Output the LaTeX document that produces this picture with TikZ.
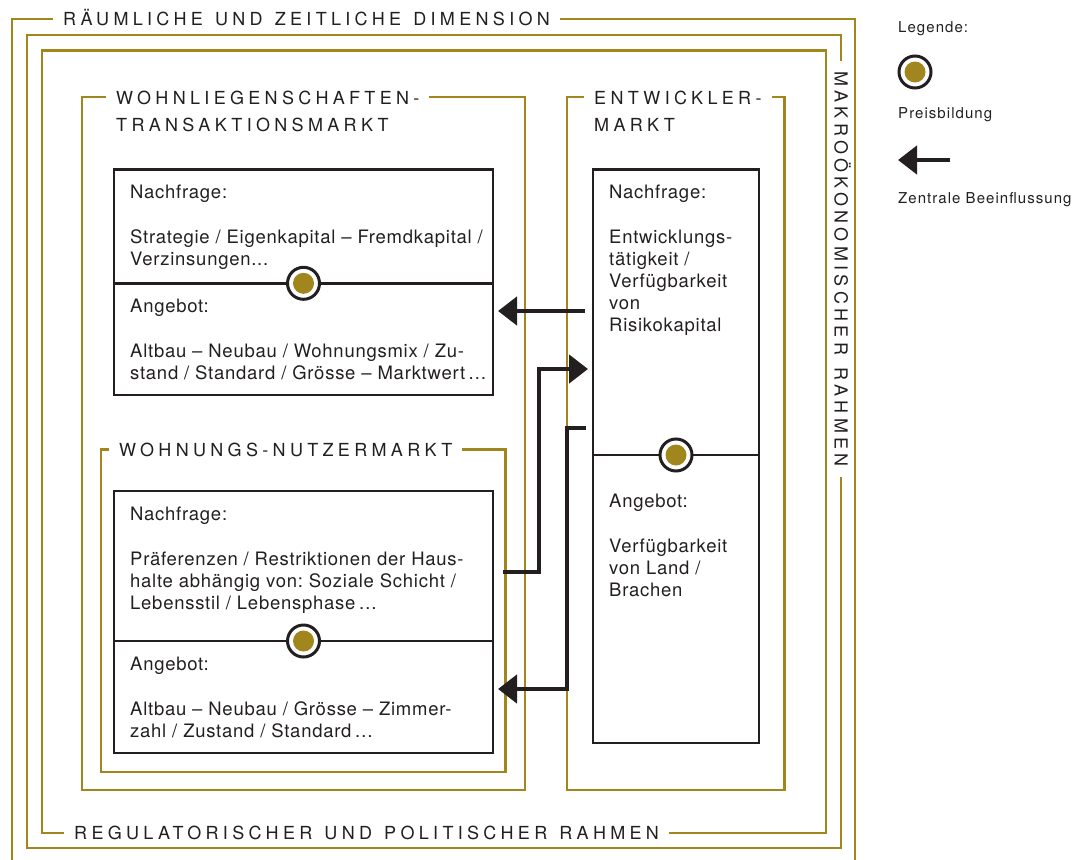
\documentclass[tikz,border=0pt]{standalone}
\usepackage{fontspec}
\setmainfont{TeX Gyre Heros}
\newfontfamily\capsfam{TeX Gyre Heros}[LetterSpace=24,WordSpace=1.3]
\newfontfamily\bodyfam{TeX Gyre Heros}[LetterSpace=4]
\newfontfamily\legendfam{TeX Gyre Heros}[LetterSpace=7]
\newcommand\capsfont{\capsfam\fontsize{18}{27.5}\selectfont}
\newcommand\bodyfont{\bodyfam\fontsize{18.5}{22}\selectfont}
\newcommand\legendfont{\legendfam\fontsize{15}{18}\selectfont}
\usetikzlibrary{arrows.meta,positioning}
\definecolor{ragold}{HTML}{A0861C}
\definecolor{raink}{HTML}{231F20}
\frenchspacing

\begin{document}
\begin{tikzpicture}[
  x=1pt, y=-1pt,
  frame/.style={draw=ragold, line width=2.7pt},
  caption/.style={fill=white, font=\capsfont, text=raink, inner xsep=10pt, inner ysep=0pt},
  title/.style={caption, anchor=west, text height=13pt, text depth=0pt},
  titletwo/.style={caption, align=left, anchor=north west},
  block/.style={draw=raink, line width=2.6pt, anchor=north west, inner sep=0pt, outer sep=0pt},
  info/.style={font=\bodyfont, text=raink, align=left, inner sep=0pt},
  preis/.style={circle, draw=raink, line width=3pt, fill=white, minimum size=32pt, inner sep=0pt,
    path picture={\fill[ragold] (path picture bounding box.center) circle (10.5pt);}},
  influence/.style={draw=raink, line width=4.6pt, -{Triangle[length=19pt,width=28pt]}, shorten >=5pt},
  legend/.style={font=\legendfont, text=raink, anchor=base west, inner sep=0pt}
]
  \useasboundingbox (0,0) rectangle (1091,859);

  % outer frames
  \draw[frame] (12,862) |- (855,19) -- (855,862);
  \draw[frame] (27,35) rectangle (841,848);
  \draw[frame] (42,50.5) rectangle (826,833);
  \node[title] (dimensionTitle) at (53,19) {RÄUMLICHE UND ZEITLICHE DIMENSION};
  \node[title, anchor=center, rotate=-90] (makroTitle) at (841,269) {MAKROÖKONOMISCHER RAHMEN};
  \node[title] (regulationTitle) at (64,833) {REGULATORISCHER UND POLITISCHER RAHMEN};

  % market frames
  \draw[frame] (82,97) rectangle (525,790);
  \draw[frame] (101,449.5) rectangle (505.5,772);
  \draw[frame] (567,97) rectangle (784.5,790);
  \node[titletwo] (transTitle) at (106,90.5) {WOHNLIEGENSCHAFTEN-\\TRANSAKTIONSMARKT};
  \node[title] (nutzerTitle) at (109,449.5) {WOHNUNGS-NUTZERMARKT};
  \node[titletwo] (entwTitle) at (584,90.5) {ENTWICKLER-\\MARKT};

  % transaktionsmarkt
  \node[block, minimum width=379pt, minimum height=113.8pt] (transNachfrage) at (114,169.5) {};
  \node[block, minimum width=379pt, minimum height=111.7pt, below=0pt of transNachfrage] (transAngebot) {};
  \node[info, below right=15.5pt and 16pt of transNachfrage.north west] (transNachfrageText)
    {Nachfrage:\\[23pt]Strategie / Eigenkapital – Fremdkapital /\\Verzinsungen...};
  \node[info, below right=15.5pt and 16pt of transAngebot.north west] (transAngebotText)
    {Angebot:\\[23pt]Altbau – Neubau / Wohnungsmix / Zu-\\stand / Standard / Grösse – Marktwert\,…};
  \node[preis] (transPreis) at (transNachfrage.south) {};

  % nutzermarkt
  \node[block, minimum width=379pt, minimum height=150pt] (nutzerNachfrage) at (114,491) {};
  \node[block, minimum width=379pt, minimum height=112pt, below=0pt of nutzerNachfrage] (nutzerAngebot) {};
  \node[info, below right=15.5pt and 16pt of nutzerNachfrage.north west] (nutzerNachfrageText)
    {Nachfrage:\\[23pt]Präferenzen / Restriktionen der Haus-\\halte abhängig von: Soziale Schicht /\\Lebensstil / Lebensphase\,…};
  \node[info, below right=15.5pt and 16pt of nutzerAngebot.north west] (nutzerAngebotText)
    {Angebot:\\[23pt]Altbau – Neubau / Grösse – Zimmer-\\zahl / Zustand / Standard\,…};
  \node[preis] (nutzerPreis) at (nutzerNachfrage.south) {};

  % entwicklermarkt
  \node[block, minimum width=166pt, minimum height=285.5pt] (entwNachfrage) at (593,169.5) {};
  \node[block, minimum width=166pt, minimum height=288pt, below=0pt of entwNachfrage] (entwAngebot) {};
  \node[info, below right=15.5pt and 16pt of entwNachfrage.north west] (entwNachfrageText)
    {Nachfrage:\\[23pt]Entwicklungs-\\tätigkeit /\\Verfügbarkeit\\von\\Risikokapital};
  \node[info, below right=39pt and 16pt of entwAngebot.north west] (entwAngebotText)
    {Angebot:\\[23pt]Verfügbarkeit\\von Land /\\Brachen};
  \node[preis] (entwPreis) at (entwNachfrage.south) {};

  % beeinflussung
  \coordinate (entwOut) at (585,311);
  \draw[influence] (entwOut) -- (entwOut -| transAngebot.east);
  \coordinate (nutzerOut) at (503,572);
  \coordinate (nutzerBend) at (539,369);
  \draw[influence] (nutzerOut) -| (nutzerBend) -- (nutzerBend -| entwNachfrage.west);
  \coordinate (entwOutLow) at (586,428);
  \coordinate (entwBend) at (567,689);
  \draw[influence] (entwOutLow) -| (entwBend) -- (entwBend -| nutzerAngebot.east);

  % legende
  \node[legend] (legendTitle) at (898,33) {Legende:};
  \node[preis] (legendPreis) at (915,72) {};
  \node[legend] (legendPreisText) at (898,118) {Preisbildung};
  \coordinate (legendTail) at (950,160);
  \coordinate (legendHead) at (898,160);
  \draw[influence, shorten >=0pt] (legendTail) -- (legendHead);
  \node[legend] (legendArrowText) at (898,203) {Zentrale Beeinflussung};
\end{tikzpicture}
\end{document}
